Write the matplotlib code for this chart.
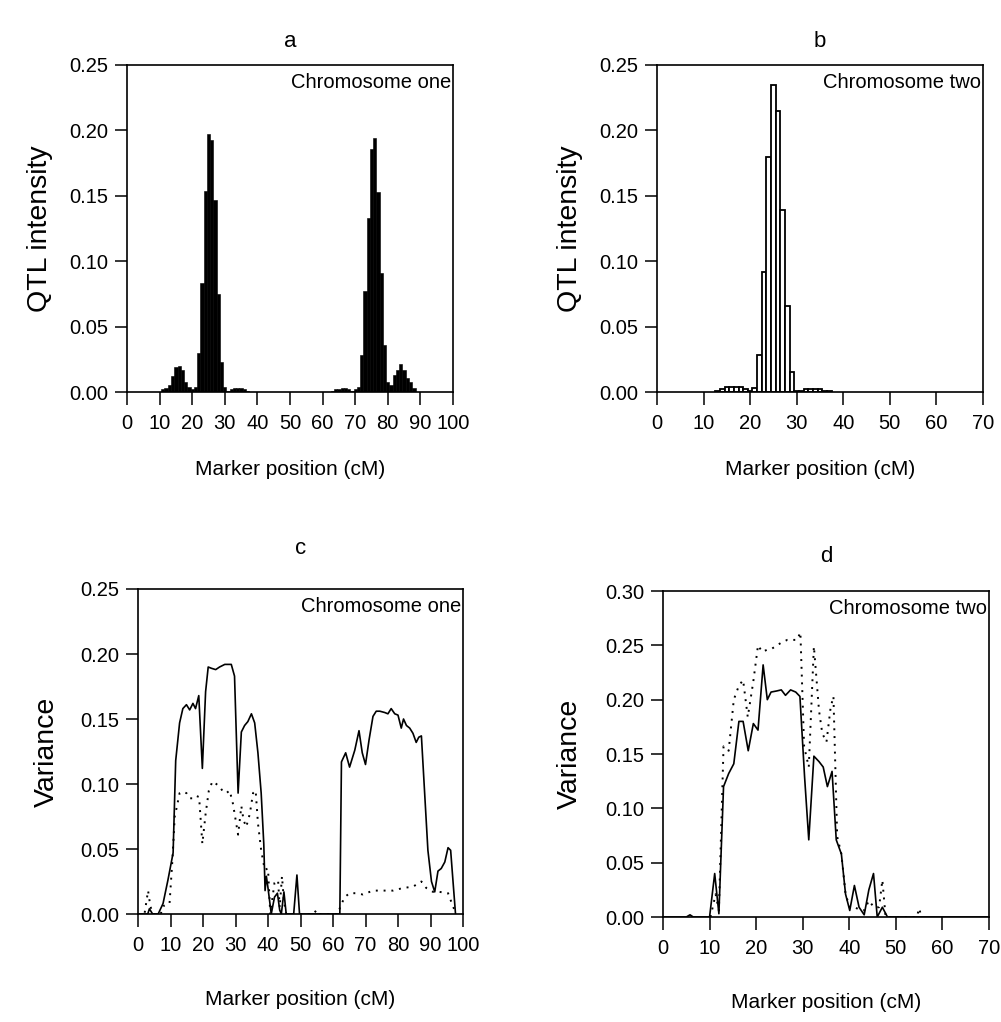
import matplotlib
matplotlib.use("Agg")
import matplotlib.pyplot as plt
import numpy as np

plt.rcParams['font.family'] = ['Liberation Sans', 'DejaVu Sans']

# ---------------- data ----------------
panel_titles = ['a', 'b', 'c', 'd']
chrom_labels = ['Chromosome one', 'Chromosome two']

# Panel a: QTL intensity, chromosome one (bar centres in cM)
chr1_pos = [11, 12, 13, 14, 15, 16, 17, 18, 19, 20, 21, 22, 23, 24, 25, 26, 27, 28, 29, 30,
            31, 32, 33, 34, 35, 36, 37,
            63, 64, 65, 66, 67, 68, 69, 70, 71, 72, 73, 74, 75, 76, 77, 78, 79, 80,
            81, 82, 83, 84, 85, 86, 87, 88]
chr1_qtl = [0.002, 0.003, 0.005, 0.012, 0.019, 0.020, 0.017, 0.008, 0.004, 0.002, 0.004,
            0.030, 0.083, 0.154, 0.197, 0.193, 0.147, 0.075, 0.023, 0.004,
            0.001, 0.002, 0.003, 0.003, 0.003, 0.002, 0.001,
            0.001, 0.002, 0.002, 0.003, 0.003, 0.002, 0.001, 0.002, 0.004, 0.028, 0.077,
            0.133, 0.186, 0.194, 0.153, 0.091, 0.036, 0.008,
            0.005, 0.013, 0.017, 0.0215, 0.017, 0.011, 0.008, 0.003]

# Panel b: QTL intensity, chromosome two
chr2_pos = [13, 14, 15, 16, 17, 18, 19, 20, 21, 22, 23, 24, 25, 26, 27, 28, 29, 30,
            31, 32, 33, 34, 35, 36, 37]
chr2_qtl = [0.001, 0.002, 0.004, 0.004, 0.004, 0.004, 0.002, 0.001, 0.003,
            0.028, 0.092, 0.180, 0.235, 0.215, 0.139, 0.066, 0.0155, 0.001,
            0.001, 0.002, 0.002, 0.002, 0.002, 0.001, 0.001]

# Panel c: variance, chromosome one
c_solid_x = [0, 3, 3.5, 4.5, 6.2, 7.7, 9.2, 10.8, 11.6, 12.8, 13.8, 14.9, 15.9, 16.9, 17.7,
             18.7, 19.8, 20.8, 21.6, 22.6, 23.9, 25.1, 26.7, 27.7, 28.7, 29.7, 30.8, 31.8,
             32.8, 33.8, 34.9, 35.9, 36.9, 37.9, 38.7, 39.1, 39.5, 40, 40.5, 41, 42, 42.9,
             43.6, 44.1, 44.9, 45.6, 47.9, 48.9, 49.7, 62.1, 62.6, 63.9, 65.1, 66.7, 68,
             69, 70, 71.1, 72.3, 73.3, 74.4, 75.9, 76.9, 77.9, 79, 80, 81, 81.7, 82.6,
             83.6, 84.6, 85.6, 86.4, 87.2, 88.2, 89.2, 90.3, 91.3, 92.3, 93.3, 94.4, 95.4,
             96.2, 96.9, 97.7]
c_solid_y = [0, 0, 0.004, 0, 0, 0.008, 0.026, 0.047, 0.118, 0.147, 0.158, 0.161, 0.157,
             0.162, 0.158, 0.168, 0.112, 0.171, 0.190, 0.189, 0.188, 0.190, 0.192, 0.192,
             0.192, 0.183, 0.093, 0.140, 0.145, 0.148, 0.154, 0.147, 0.124, 0.093, 0.054,
             0.018, 0.029, 0.020, 0.010, 0, 0.013, 0.016, 0.003, 0, 0.017, 0, 0, 0.030, 0,
             0, 0.117, 0.124, 0.113, 0.126, 0.141, 0.124, 0.115, 0.134, 0.152, 0.156, 0.156,
             0.155, 0.154, 0.158, 0.154, 0.153, 0.143, 0.150, 0.145, 0.143, 0.139, 0.132,
             0.136, 0.137, 0.093, 0.049, 0.025, 0.017, 0.033, 0.035, 0.040, 0.051, 0.049,
             0.026, 0]
c_dot_x = [0, 2, 3.1, 3.8, 4.6, 7, 7.7, 9.7, 10.6, 11.3, 12, 12.8, 13.8, 14.9, 15.9, 16.9,
           17.7, 18.8, 19.8, 20.8, 21.8, 22.9, 24.1, 25.1, 26.2, 27.2, 28.2, 29.2, 30.8,
           31.8, 32.5, 33.3, 34.4, 35.4, 36.2, 36.9, 37.9, 39, 40, 40.7, 42, 43.1, 43.6,
           44.3, 44.9, 45.6, 54, 54.9, 55.8, 61.5, 62.3, 63.6, 65.1, 67.2, 69.2, 72.3,
           75.4, 78.5, 81.5, 84.6, 87.2, 88.7, 90.8, 92.8, 95.4, 96.9, 97.9]
c_dot_y = [0, 0, 0.018, 0.006, 0, 0, 0.006, 0.008, 0.042, 0.075, 0.083, 0.093, 0.094,
           0.093, 0.089, 0.089, 0.091, 0.090, 0.054, 0.077, 0.095, 0.102, 0.100, 0.098,
           0.094, 0.093, 0.095, 0.085, 0.061, 0.083, 0.072, 0.067, 0.077, 0.093, 0.095,
           0.070, 0.049, 0.034, 0.035, 0, 0.024, 0.026, 0.005, 0.029, 0.010, 0, 0, 0.003,
           0, 0, 0.006, 0.013, 0.016, 0.016, 0.015, 0.018, 0.018, 0.018, 0.020, 0.021,
           0.025, 0.020, 0.017, 0.017, 0.016, 0.006, 0]

# Panel d: variance, chromosome two
d_solid_x = [0, 5.0, 5.8, 6.5, 10, 11.1, 12, 13, 14.1, 15.2, 16.3, 17.2, 18.3, 19.4, 20.4,
             21.5, 22.4, 23.2, 24.4, 25.4, 26.3, 27.4, 28.5, 29.4, 30.4, 31.3, 32.4, 33.5,
             34.4, 35.3, 36.3, 37.2, 38.3, 39.2, 40.1, 41.1, 42.1, 43.2, 44.2, 45.2, 46,
             47.1, 48.2, 70]
d_solid_y = [0, 0, 0.002, 0, 0, 0.040, 0.003, 0.120, 0.132, 0.141, 0.180, 0.180, 0.153,
             0.178, 0.172, 0.232, 0.200, 0.207, 0.208, 0.209, 0.204, 0.209, 0.207, 0.203,
             0.129, 0.071, 0.148, 0.143, 0.138, 0.120, 0.134, 0.071, 0.058, 0.021, 0.006,
             0.029, 0.009, 0.002, 0.025, 0.040, 0, 0.009, 0, 0]
d_dot_x = [10.2, 11.3, 12, 13, 14.1, 15.2, 16.3, 17.2, 18.2, 19.4, 20.4, 21.3, 22.4, 23.4,
           24.5, 25.6, 26.7, 27.7, 28.8, 29.5, 30.3, 31.3, 32.4, 33.5, 34.2, 35.1, 36,
           36.6, 37.4, 38.3, 39.2, 40.1, 41.1, 42.1, 43.2, 44.2, 45.3, 46.4, 47.1, 47.8,
           54.5, 55, 55.5]
d_dot_y = [0, 0.021, 0.006, 0.157, 0.153, 0.200, 0.213, 0.218, 0.184, 0.217, 0.250, 0.244,
           0.246, 0.247, 0.250, 0.253, 0.255, 0.255, 0.255, 0.262, 0.157, 0.138, 0.249,
           0.190, 0.169, 0.161, 0.193, 0.203, 0.074, 0.058, 0.021, 0.009, 0.009, 0.007,
           0.006, 0.015, 0.009, 0.009, 0.034, 0, 0, 0.008, 0]

x_ticks_chr1 = [0, 10, 20, 30, 40, 50, 60, 70, 80, 90, 100]
x_ticks_chr2 = [0, 10, 20, 30, 40, 50, 60, 70]
y_ticks_025 = [0.00, 0.05, 0.10, 0.15, 0.20, 0.25]
y_ticks_030 = [0.00, 0.05, 0.10, 0.15, 0.20, 0.25, 0.30]

# ---------------- figure ----------------
W, H = 1001, 1022
fig = plt.figure(figsize=(W / 100, H / 100), dpi=100)

def box(x0, x1, y0, y1):
    return [x0 / W, 1 - y1 / H, (x1 - x0) / W, (y1 - y0) / H]

ax_a = fig.add_axes(box(127, 453, 65, 392))
ax_b = fig.add_axes(box(657, 983, 65, 392))
ax_c = fig.add_axes(box(138, 463, 589, 914))
ax_d = fig.add_axes(box(663, 989, 591, 917))

TICK_FS = 14.5
XLABEL_FS = 15
YLABEL_FS = 20.5
TITLE_FS = 16

def style(ax, xticks, yticks, ylabel, title, tpad, xlpad, ylpad):
    ax.set_xlim(xticks[0], xticks[-1])
    ax.set_ylim(yticks[0], yticks[-1])
    ax.set_xticks(xticks)
    ax.set_yticks(yticks)
    ax.set_xticklabels([str(t) for t in xticks])
    ax.set_yticklabels([f"{t:.2f}" for t in yticks])
    ax.tick_params(direction='out', length=9, width=1.1, labelsize=TICK_FS,
                   top=False, right=False)
    ax.tick_params(axis='x', pad=7)
    ax.tick_params(axis='y', pad=4.5)
    for s in ax.spines.values():
        s.set_linewidth(1.2)
    ax.set_xlabel('Marker position (cM)', fontsize=XLABEL_FS, labelpad=xlpad)
    ax.set_ylabel(ylabel, fontsize=YLABEL_FS, labelpad=ylpad)
    ax.set_title(title, fontsize=TITLE_FS, pad=tpad)

# a
ax_a.bar(chr1_pos, chr1_qtl, width=1.0, color='black', edgecolor='black', linewidth=0.4)
style(ax_a, x_ticks_chr1, y_ticks_025, 'QTL intensity', panel_titles[0], 13, 19, 12)
# b
ax_b.bar(chr2_pos, chr2_qtl, width=1.0, color='white', edgecolor='black', linewidth=1.3)
style(ax_b, x_ticks_chr2, y_ticks_025, 'QTL intensity', panel_titles[1], 13, 19, 12)
# c
ax_c.plot(c_solid_x, c_solid_y, color='black', lw=1.2)
ax_c.plot(c_dot_x, c_dot_y, color='black', lw=1.4, linestyle=(0, (1, 3)))
style(ax_c, x_ticks_chr1, y_ticks_025, 'Variance', panel_titles[2], 25, 25, 15)
# d
ax_d.plot(d_solid_x, d_solid_y, color='black', lw=1.2)
ax_d.plot(d_dot_x, d_dot_y, color='black', lw=1.4, linestyle=(0, (1, 3)))
style(ax_d, x_ticks_chr2, y_ticks_030, 'Variance', panel_titles[3], 21, 25, 16)

for ax, lab in zip([ax_a, ax_b, ax_c, ax_d], chrom_labels * 2):
    ax.text(0.995, 0.975, lab, transform=ax.transAxes, ha='right', va='top',
            fontsize=14.5)

fig.savefig('out.png', dpi=100)
